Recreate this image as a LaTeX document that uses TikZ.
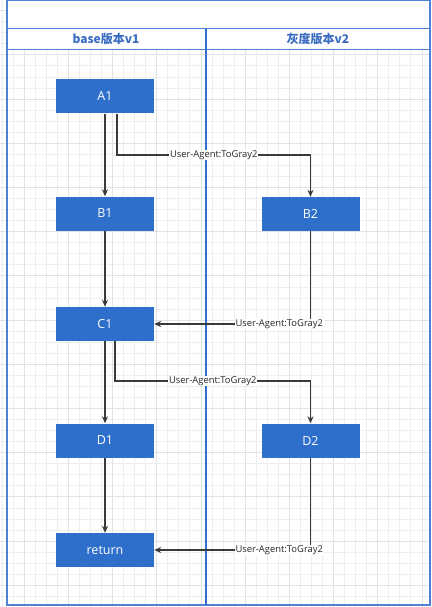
\documentclass[tikz,border=0pt]{standalone}
\usepackage{fontspec}
\setmainfont{Open Sans}
\newfontfamily\cjk{Noto Sans CJK SC}
\usetikzlibrary{arrows.meta}
\definecolor{boxblue}{HTML}{2D6FCA}
\definecolor{poolblue}{HTML}{4F82D2}
\definecolor{lanediv}{HTML}{2F6FD0}
\definecolor{headtxt}{HTML}{3A6DC2}
\definecolor{edgegray}{HTML}{3A3A3A}
\definecolor{gridminor}{HTML}{EEEEEE}
\definecolor{gridmajor}{HTML}{E2E2E2}
\tikzset{
  procbox/.style={fill=boxblue, text=white, minimum width=98pt, minimum height=34pt, inner sep=0pt, font=\fontsize{12.5}{14}\selectfont},
  flow/.style={draw=edgegray, line width=1.3pt, -{Stealth[length=7pt,width=6pt]}},
  lbl/.style={fill=white, inner sep=0.6pt, text=black!85, font=\fontsize{9.4}{11}\selectfont},
  headlbl/.style={text=headtxt, font=\cjk\bfseries\fontsize{12}{14}\selectfont},
}
\begin{document}
\begin{tikzpicture}[x=1pt, y=-1pt]
\useasboundingbox (0,0) rectangle (431,607);
% grid
\foreach \i in {0,...,39} {
  \draw[gridminor, line width=0.8pt] ({2+11.05*\i},0) -- ({2+11.05*\i},607);
}
\foreach \j in {0,...,55} {
  \draw[gridminor, line width=0.8pt] (0,{-0.4+11.05*\j}) -- (431,{-0.4+11.05*\j});
}
\foreach \i in {0,...,9} {
  \draw[gridmajor, line width=0.8pt] ({24.1+44.2*\i},0) -- ({24.1+44.2*\i},607);
}
\foreach \j in {0,...,13} {
  \draw[gridmajor, line width=0.8pt] (0,{10.65+44.2*\j}) -- (431,{10.65+44.2*\j});
}
% pool header area
\fill[white] (7,0) rectangle (430,49.3);
% pool outline
\draw[poolblue, line width=1.1pt] (7,0.8) rectangle (430,605);
\draw[poolblue, line width=1.1pt] (7,28.7) -- (430,28.7);
\draw[poolblue, line width=1.1pt] (7,49.3) -- (430,49.3);
\draw[lanediv, line width=1.1pt] (206,28.7) -- (206,605);
\node[headlbl] (h1) at (106,39) {base版本v1};
\node[headlbl] (h2) at (318,39) {灰度版本v2};
% nodes
\node[procbox] (A1) at (105,96.5) {A1};
\node[procbox] (B1) at (105,213.5) {B1};
\node[procbox] (B2) at (310.5,214) {B2};
\node[procbox] (C1) at (105,324) {C1};
\node[procbox] (D1) at (105,440.5) {D1};
\node[procbox] (D2) at (310.5,440.5) {D2};
\node[procbox] (ret) at (105,550) {return};
\coordinate (k1) at (117,155);
\coordinate (k2) at (310.5,155);
\coordinate (k3) at (115,381);
\coordinate (k4) at (310.5,381);
% edges
\draw[flow] (A1) -- (B1);
\draw[flow] (A1.south -| k1) -- (k1) -- node[lbl]{User-Agent:ToGray2} (k2) -- (B2.north);
\draw[flow] (B1) -- (C1);
\draw[flow] (B2.south) |- node[lbl, pos=0.6]{User-Agent:ToGray2} (C1.east);
\draw[flow] (C1) -- (D1);
\draw[flow] (C1.south -| k3) -- (k3) -- node[lbl]{User-Agent:ToGray2} (k4) -- (D2.north);
\draw[flow] (D1) -- (ret);
\draw[flow] (D2.south) |- node[lbl, pos=0.6]{User-Agent:ToGray2} (ret.east);
\end{tikzpicture}
\end{document}
